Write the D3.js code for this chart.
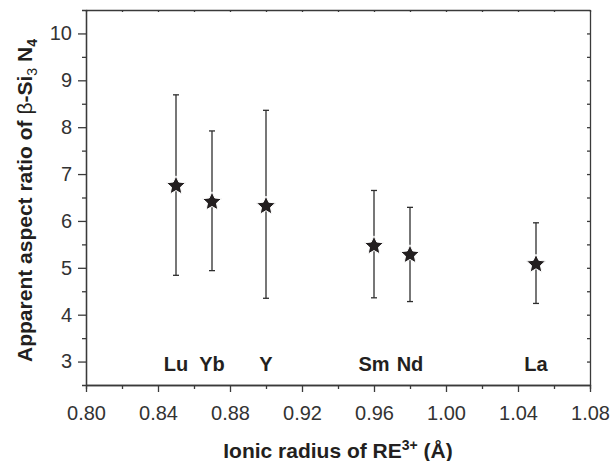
<!DOCTYPE html>
<html>
<head>
<meta charset="utf-8">
<script src="https://cdn.jsdelivr.net/npm/d3@7"></script>
<style>
    body { margin: 0; background: #fff; }
    svg { display: block; font-family: "Liberation Sans", Arial, sans-serif; }
    .axis path, .axis line { stroke: #3a3a3a; stroke-width: 1.3; }
    .axis text { fill: #333; font-size: 20px; }
</style>
</head>
<body>
<div id="chart"></div>
<script>
// rare earth cations, ionic radius (Å) and apparent aspect ratio of beta-Si3N4
const elements = ["Lu", "Yb", "Y", "Sm", "Nd", "La"];
const radius = [0.85, 0.87, 0.90, 0.96, 0.98, 1.05];
const aspect = [6.77, 6.43, 6.34, 5.49, 5.30, 5.10];
const errLow = [4.84, 4.94, 4.35, 4.36, 4.28, 4.24];
const errHigh = [8.69, 7.92, 8.36, 6.65, 6.29, 5.96];

const xTicks = [0.80, 0.84, 0.88, 0.92, 0.96, 1.00, 1.04, 1.08];
const xMinor = [0.82, 0.86, 0.90, 0.94, 0.98, 1.02, 1.06];
const yTicks = [3, 4, 5, 6, 7, 8, 9, 10];
const yMinor = [3.5, 4.5, 5.5, 6.5, 7.5, 8.5, 9.5];

const width = 615, height = 461;
const margin = { top: 10, right: 25, bottom: 76, left: 86 };

const svg = d3.select("#chart").append("svg")
    .attr("width", width)
    .attr("height", height);

const x = d3.scaleLinear().domain([0.80, 1.08]).range([margin.left, width - margin.right]);
const y = d3.scaleLinear().domain([2.5, 10.5]).range([height - margin.bottom, margin.top]);

const bottom = height - margin.bottom;
const right = width - margin.right;

// bottom axis, major + minor ticks outward
svg.append("g").attr("class", "axis")
    .attr("transform", `translate(0,${bottom})`)
    .call(d3.axisBottom(x).tickValues(xMinor).tickSize(4).tickFormat(""));
svg.append("g").attr("class", "axis")
    .attr("transform", `translate(0,${bottom})`)
    .call(d3.axisBottom(x).tickValues(xTicks).tickSize(7).tickSizeOuter(0).tickPadding(14).tickFormat(d3.format(".2f")));

// left axis
svg.append("g").attr("class", "axis")
    .attr("transform", `translate(${margin.left},0)`)
    .call(d3.axisLeft(y).tickValues(yMinor).tickSize(4).tickFormat(""));
svg.append("g").attr("class", "axis")
    .attr("transform", `translate(${margin.left},0)`)
    .call(d3.axisLeft(y).tickValues(yTicks).tickSize(8).tickSizeOuter(0).tickPadding(6));

// top and right frame with small inward ticks
svg.append("g").attr("class", "axis")
    .attr("transform", `translate(0,${margin.top})`)
    .call(d3.axisTop(x).tickValues(xTicks.concat(xMinor)).tickSize(-2).tickSizeOuter(0).tickFormat(""));
svg.append("g").attr("class", "axis")
    .attr("transform", `translate(${right},0)`)
    .call(d3.axisRight(y).tickValues(yTicks.concat(yMinor)).tickSize(-3).tickSizeOuter(0).tickFormat(""));

svg.selectAll(".axis .domain").attr("stroke", "#3a3a3a").attr("stroke-width", 1.4);

const points = elements.map((el, i) => ({
    el, r: radius[i], v: aspect[i], lo: errLow[i], hi: errHigh[i]
}));

// error bars
const bars = svg.append("g")
    .attr("stroke", "#2e2e2e")
    .attr("stroke-width", 1.3);

bars.selectAll("line.stem")
    .data(points)
    .enter()
    .append("line")
    .attr("class", "stem")
    .attr("x1", d => x(d.r))
    .attr("x2", d => x(d.r))
    .attr("y1", d => y(d.lo))
    .attr("y2", d => y(d.hi));

["lo", "hi"].forEach(k => {
    bars.selectAll(`line.cap-${k}`)
        .data(points)
        .enter()
        .append("line")
        .attr("class", `cap-${k}`)
        .attr("x1", d => x(d.r) - 3)
        .attr("x2", d => x(d.r) + 3)
        .attr("y1", d => y(d[k]))
        .attr("y2", d => y(d[k]));
});

// fatter five point star than d3.symbolStar
const fatStar = {
    draw(context, size) {
        const r = Math.sqrt(size) , ri = r * 0.47;
        for (let i = 0; i < 10; i++) {
            const a = -Math.PI / 2 + i * Math.PI / 5;
            const rr = i % 2 ? ri : r;
            if (i === 0) context.moveTo(rr * Math.cos(a), rr * Math.sin(a));
            else context.lineTo(rr * Math.cos(a), rr * Math.sin(a));
        }
        context.closePath();
    }
};

svg.append("g")
    .selectAll("path")
    .data(points)
    .enter()
    .append("path")
    .attr("d", d3.symbol().type(fatStar).size(100))
    .attr("transform", d => `translate(${x(d.r)},${y(d.v) + 1})`)
    .attr("fill", "#231f20")
    .attr("stroke", "#fff")
    .attr("stroke-width", 1);

// element labels
svg.append("g")
    .selectAll("text")
    .data(points)
    .enter()
    .append("text")
    .attr("x", d => x(d.r))
    .attr("y", bottom - 14)
    .attr("text-anchor", "middle")
    .attr("font-size", "20px")
    .attr("font-weight", "bold")
    .attr("fill", "#231f20")
    .text(d => d.el);

// x title
const xt = svg.append("text")
    .attr("x", (margin.left + right) / 2)
    .attr("y", 458)
    .attr("text-anchor", "middle")
    .attr("font-size", "21px")
    .attr("font-weight", "bold")
    .attr("fill", "#231f20");
xt.append("tspan").text("Ionic radius of RE");
xt.append("tspan").attr("dy", -8).attr("font-size", "14px").text("3+");
xt.append("tspan").attr("dy", 8).text(" (Å)");

// y title
const yt = svg.append("text")
    .attr("transform", `translate(31.5,${(margin.top + bottom) / 2 + 3}) rotate(-90)`)
    .attr("text-anchor", "middle")
    .attr("font-size", "21px")
    .attr("font-weight", "bold")
    .attr("fill", "#231f20");
yt.append("tspan").text("Apparent aspect ratio of ");
yt.append("tspan").attr("font-weight", "normal").text("β");
yt.append("tspan").text("-Si");
yt.append("tspan").attr("dy", 5).attr("font-size", "14px").attr("font-weight", "normal").text("3");
yt.append("tspan").attr("dy", -5).text(" N");
yt.append("tspan").attr("dy", 5).attr("font-size", "14px").text("4");
</script>
</body>
</html>
